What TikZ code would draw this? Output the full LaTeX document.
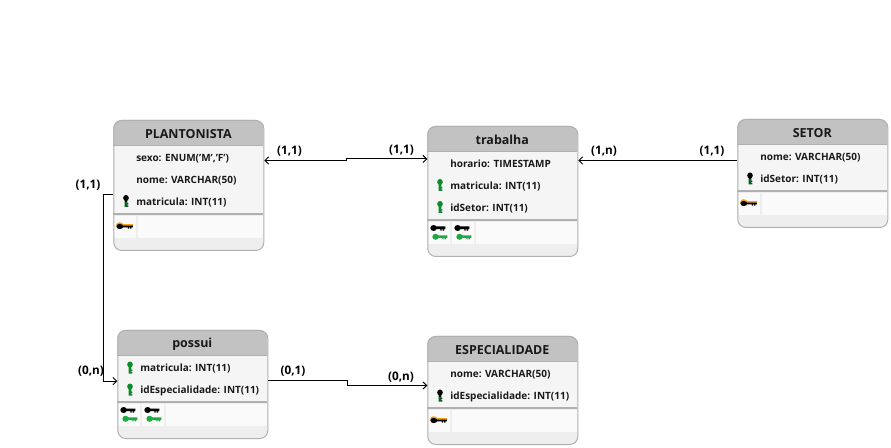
\documentclass[tikz,border=0pt]{standalone}
\usepackage{fontspec}
\setmainfont{Open Sans}
\usetikzlibrary{arrows.meta}

\definecolor{borda}{HTML}{B0B0B0}
\definecolor{topo}{HTML}{C2C2C2}
\definecolor{corpo}{HTML}{F5F5F5}
\definecolor{rodape}{HTML}{EEEEEE}
\definecolor{celula}{HTML}{FAFAFA}
\definecolor{verde}{HTML}{0E8A2C}
\definecolor{verdeclaro}{HTML}{1FA845}
\definecolor{laranja}{HTML}{F2A31B}

\tikzset{
  caixa/.style={draw=borda,line width=0.75pt,rounded corners=6pt,anchor=north west,
    minimum width=112.5pt,inner sep=0pt},
  titulo/.style={font=\bfseries\fontsize{9.35pt}{10pt}\selectfont,text=black!90,inner sep=0pt},
  campo/.style={font=\bfseries\fontsize{7.5pt}{8pt}\selectfont,text=black!90,anchor=west,inner sep=0pt,
    text height=1.45ex,text depth=.35ex,yshift=-0.4pt},
  rotulo/.style={font=\bfseries\fontsize{8.8pt}{10pt}\selectfont,text=black,inner sep=0pt,yshift=-0.8pt},
  conector/.style={draw=black,line width=0.7pt,{Straight Barb[length=2.8pt,width=5.5pt]}-{Straight Barb[length=2.8pt,width=5.5pt]}},
  seta/.style={draw=black,line width=0.7pt,-{Straight Barb[length=2.8pt,width=5.5pt]}},
  volta/.style={draw=black,line width=0.7pt,{Straight Barb[length=2.8pt,width=5.5pt]}-},
  pics/chavev/.style 2 args={code={
    \fill[#2] (-1.3,-2) rectangle (1.3,6) (1.3,2.2) rectangle (2.4,3.4) (1.3,4.4) rectangle (2.4,6);
    \fill[#1] (0,-3) ellipse (2.8 and 3);
    \fill[#1] (-1.3,-2) rectangle (1.3,1);
  }},
  pics/chaveh/.style 2 args={code={
    \fill[#2] (-3,-1.5) rectangle (7.5,1.2) (4.9,1.2) rectangle (6.2,2.6) (2.6,1.2) rectangle (3.9,2.6);
    \fill[#1] (-4.2,0) ellipse (3.3 and 3);
  }},
  pics/primaria/.style={code={
    \fill[laranja] (-5,-.7) ellipse (3.7 and 3.1);
    \fill[laranja] (-3,-2.2) rectangle (8.5,0);
    \fill[black] (-3,-.4) rectangle (8,1.4) (3,1.4) rectangle (4.4,2.6) (5.2,1.4) rectangle (6.6,2.6);
    \fill[black] (-5,.5) ellipse (3.4 and 2.6);
  }},
}

\newcommand{\entidade}[5]{
  \begin{scope}[shift={(#2,#3)}]
    \pgfmathsetmacro{\linha}{#4-36}
    \fill[rodape,rounded corners=6pt] (0,0) rectangle (150,#4);
    \fill[corpo] (0,25) rectangle (150,\linha);
    \fill[topo] (0,25.5) [rounded corners=6pt] -- (0,0) -- (150,0) -- (150,12) [sharp corners] -- (150,25.5) -- cycle;
    \draw[borda,line width=1pt] (0,25.5) -- (150,25.5);
    \fill[celula] (1,\linha+2) rectangle (149.5,\linha+24);
    \draw[borda,line width=1.1pt] (0,\linha) -- (150,\linha);
    \node[caixa,minimum height=#4*0.75pt] (#1) at (0,0) {};
    \node[titulo] (#1-titulo) at (75,13.8) {#5};
  \end{scope}
}
\newcommand{\celulasimples}[3]{
  \begin{scope}[shift={(#1,#2-36)}]
    \fill[rodape] (23,2) rectangle (25,24);
    \path (11.5,12) pic {primaria};
  \end{scope}
}
\newcommand{\celuladupla}[3]{
  \begin{scope}[shift={(#1,#2-36)}]
    \foreach \coluna in {0,24}{
      \fill[rodape] (\coluna+23,2) rectangle (\coluna+25,24);
      \path (\coluna+10.5,8) pic {chaveh={black}{black}};
      \path (\coluna+12.5,16.8) pic {chaveh={verdeclaro}{verdeclaro}};
    }
  \end{scope}
}

\begin{document}
\begin{tikzpicture}[x=0.75pt,y=-0.75pt]
  \useasboundingbox (0,0) rectangle (891,448);

  \entidade{plantonista}{113.3}{120}{130}{PLANTONISTA}
  \celulasimples{113.3}{250}{}
  \node[campo] (plantonista-sexo) at (136,157) {sexo: ENUM('M','F')};
  \node[campo] (plantonista-nome) at (136,179) {nome: VARCHAR(50)};
  \node[campo] (plantonista-matricula) at (136,201) {matricula: INT(11)};
  \path (126,201) pic {chavev={black}{verde!70!black}};

  \entidade{trabalha}{427.3}{126}{130}{trabalha}
  \celuladupla{427.3}{256}{}
  \node[campo] (trabalha-horario) at (450,163) {horario: TIMESTAMP};
  \node[campo] (trabalha-matricula) at (450,185) {matricula: INT(11)};
  \node[campo] (trabalha-idsetor) at (450,207) {idSetor: INT(11)};
  \path (440,185) pic {chavev={verde}{verde}};
  \path (440,207) pic {chavev={verde}{verde}};

  \entidade{setor}{737.3}{119}{108}{SETOR}
  \celulasimples{737.3}{227}{}
  \node[campo] (setor-nome) at (760,156.5) {nome: VARCHAR(50)};
  \node[campo] (setor-idsetor) at (760,178.5) {idSetor: INT(11)};
  \path (750,178.5) pic {chavev={black}{verde!70!black}};

  \entidade{possui}{117.3}{330}{108}{possui}
  \celuladupla{117.3}{438}{}
  \node[campo] (possui-matricula) at (140,367.5) {matricula: INT(11)};
  \node[campo] (possui-idespecialidade) at (140,389.5) {idEspecialidade: INT(11)};
  \path (130,367.5) pic {chavev={verde}{verde}};
  \path (130,389.5) pic {chavev={verde}{verde}};

  \entidade{especialidade}{427.3}{336}{108}{ESPECIALIDADE}
  \celulasimples{427.3}{444}{}
  \node[campo] (especialidade-nome) at (450,373.5) {nome: VARCHAR(50)};
  \node[campo] (especialidade-id) at (450,395.5) {idEspecialidade: INT(11)};
  \path (440,395.5) pic {chavev={black}{verde!70!black}};

  \draw[conector] ([yshift=18.75pt]plantonista.east) -- ++(82,0) |- ([yshift=24.4pt]trabalha.west);
  \draw[volta] ([yshift=23.25pt]trabalha.east) -- ([yshift=9.75pt]setor.west);
  \draw[seta] ([yshift=-7pt]plantonista.west) -- ++(-9.5,0) |- ([yshift=2.5pt]possui.west);
  \draw[seta] ([yshift=3pt]possui.east) -- ++(79,0) |- ([yshift=3.75pt]especialidade.west);

  \node[rotulo] (rotulo-a) at (289.5,150) {(1,1)};
  \node[rotulo] (rotulo-b) at (401.5,149) {(1,1)};
  \node[rotulo] (rotulo-c) at (604,150) {(1,n)};
  \node[rotulo] (rotulo-d) at (712,150) {(1,1)};
  \node[rotulo] (rotulo-e) at (88,184) {(1,1)};
  \node[rotulo] (rotulo-f) at (91,370) {(0,n)};
  \node[rotulo] (rotulo-g) at (293,370) {(0,1)};
  \node[rotulo] (rotulo-h) at (401,376) {(0,n)};
\end{tikzpicture}
\end{document}
